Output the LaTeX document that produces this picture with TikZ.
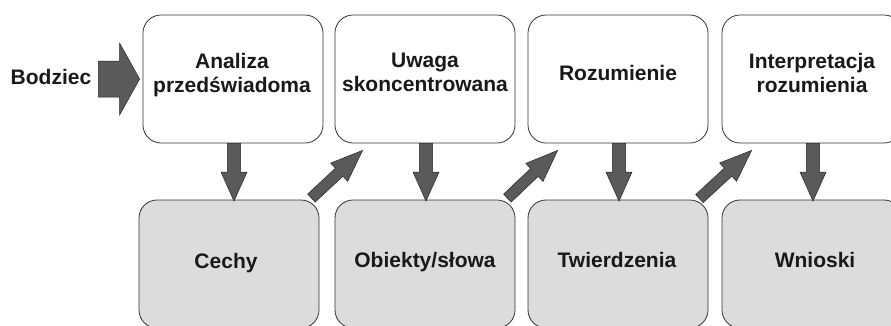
\documentclass[tikz,border=0pt]{standalone}
\usepackage{fontspec}
\setmainfont{Liberation Sans}
\usetikzlibrary{calc}
\definecolor{arrowgray}{HTML}{5A5A5A}
\definecolor{boxgray}{HTML}{DCDCDC}
\definecolor{edgegray}{HTML}{333333}
\newcommand{\blockarrow}[5]{%
  \coordinate (ba-c) at ($(#2)!#5!(#1)$);
  \filldraw[barrow] ($(#1)!#3!90:(#2)$) -- ($(ba-c)!#3!90:(#2)$) -- ($(ba-c)!#4!90:(#2)$)
    -- (#2) -- ($(ba-c)!#4!-90:(#2)$) -- ($(ba-c)!#3!-90:(#2)$) -- ($(#1)!#3!-90:(#2)$) -- cycle;
}
\begin{document}
\begin{tikzpicture}[x=1pt,y=-1pt,
  topbox/.style={draw=edgegray, line width=0.8pt, fill=white, rounded corners=18pt,
    minimum width=180pt, minimum height=128pt, inner sep=0pt},
  botbox/.style={topbox, fill=boxgray},
  lbl/.style={font=\fontsize{21}{24}\selectfont\bfseries, text=black!90, inner sep=0pt, align=center},
  barrow/.style={fill=arrowgray, draw=black!85, line width=0.5pt, line join=miter}]
\useasboundingbox (0,0) rectangle (891,325);
\clip (0,0) rectangle (891,325);
% boxes
\node[topbox] (a1) at (233,79) {};
\node[topbox] (a2) at (425,79) {};
\node[topbox] (a3) at (618,79) {};
\node[topbox] (a4) at (812,79) {};
\node[botbox] (b1) at (229,264) {};
\node[botbox] (b2) at (425,264) {};
\node[botbox] (b3) at (618,264) {};
\node[botbox] (b4) at (812,264) {};
% texts
\node[lbl, anchor=north] (ta1) at (232,53) {Analiza\\przedświadoma};
\node[lbl, anchor=north] (ta2) at (425,53) {Uwaga\\skoncentrowana};
\node[lbl, anchor=base] (ta3) at (618,80) {Rozumienie};
\node[lbl, anchor=north] (ta4) at (812,53) {Interpretacja\\rozumienia};
\node[lbl, anchor=base] (tb1) at (226,268) {Cechy};
\node[lbl, anchor=base] (tb2) at (425,267) {Obiekty/słowa};
\node[lbl, anchor=base] (tb3) at (617,267) {Twierdzenia};
\node[lbl, anchor=base] (tb4) at (815,267) {Wnioski};
\node[lbl, anchor=base] (bodz) at (51,84) {Bodziec};
% arrow end points
\coordinate (s0) at ($(bodz.east |- a1)+(7,0)$);
\coordinate (s1) at ($(a1.west)+(-3,0)$);
\foreach \i in {1,2,3,4}{
  \coordinate (d\i s) at ($(a\i.south)+(1,0)$);
  \coordinate (d\i e) at ($(a\i.south |- b\i.north)+(1,1.5)$);
}
\coordinate (g1s) at ($(b1.north east)+(-8,-1.5)$);
\coordinate (g1e) at ($(a2.south west)+(28,7)$);
\coordinate (g2s) at ($(b2.north east)+(-8,-1.5)$);
\coordinate (g2e) at ($(a3.south west)+(30,7)$);
\coordinate (g3s) at ($(b3.north east)+(-9,-1)$);
\coordinate (g3e) at ($(a4.south west)+(30,7)$);
% arrows
\blockarrow{s0}{s1}{18pt}{36pt}{20pt}
\foreach \i in {1,2,3,4}{\blockarrow{d\i s}{d\i e}{6.7pt}{13pt}{29pt}}
\blockarrow{g1s}{g1e}{5.5pt}{12.5pt}{32pt}
\blockarrow{g2s}{g2e}{5.5pt}{12.5pt}{32pt}
\blockarrow{g3s}{g3e}{5.5pt}{12.5pt}{32pt}
\end{tikzpicture}
\end{document}
